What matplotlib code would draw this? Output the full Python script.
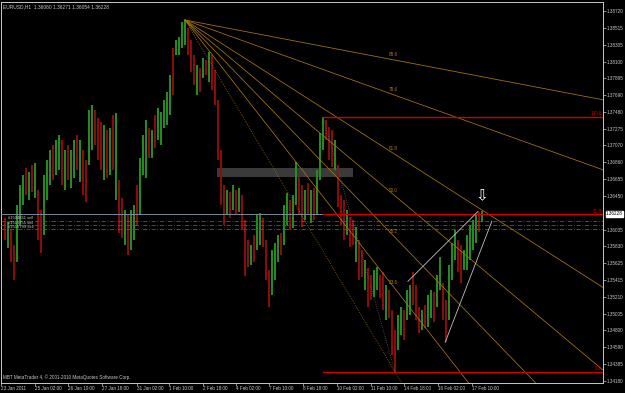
import matplotlib
matplotlib.use("Agg")
import matplotlib.pyplot as plt
from matplotlib.patches import Rectangle

plt.rcParams['font.family'] = ['Liberation Sans', 'DejaVu Sans']

# EURUSD H1, compressed to one bar per ~3 hours (high / low)
highs = [
    1.3618, 1.3613, 1.3603, 1.3585, 1.3634, 1.3658, 1.3671, 1.3679, 1.3674, 1.3683,
    1.3685, 1.3652, 1.3628, 1.3671, 1.3689, 1.3701, 1.3708, 1.3714, 1.3720, 1.3714,
    1.3701, 1.3708, 1.3701, 1.3714, 1.3720, 1.3714, 1.3701, 1.3689, 1.3750, 1.3757,
    1.3750, 1.3741, 1.3736, 1.3732, 1.3726, 1.3728, 1.3744, 1.3747, 1.3665, 1.3643,
    1.3628, 1.3622, 1.3628, 1.3634, 1.3658, 1.3692, 1.3720, 1.3738, 1.3728, 1.3726,
    1.3744, 1.3753, 1.3748, 1.3763, 1.3773, 1.3793, 1.3827, 1.3836, 1.3840, 1.3859,
    1.3861, 1.3851, 1.3836, 1.3818, 1.3806, 1.3802, 1.3814, 1.3812, 1.3822, 1.3818,
    1.3800, 1.3763, 1.3701, 1.3658, 1.3652, 1.3650, 1.3658, 1.3652, 1.3655, 1.3646,
    1.3615, 1.3591, 1.3585, 1.3597, 1.3622, 1.3624, 1.3618, 1.3591, 1.3554, 1.3579,
    1.3587, 1.3597, 1.3600, 1.3634, 1.3649, 1.3640, 1.3646, 1.3687, 1.3668, 1.3658,
    1.3652, 1.3661, 1.3652, 1.3655, 1.3677, 1.3722, 1.3742, 1.3738, 1.3730, 1.3726,
    1.3714, 1.3683, 1.3646, 1.3640, 1.3628, 1.3619, 1.3615, 1.3607, 1.3591, 1.3579,
    1.3566, 1.3557, 1.3548, 1.3554, 1.3558, 1.3548, 1.3551, 1.3536, 1.3529, 1.3505,
    1.3480, 1.3499, 1.3509, 1.3505, 1.3529, 1.3536, 1.3551, 1.3536, 1.3509, 1.3505,
    1.3511, 1.3523, 1.3529, 1.3527, 1.3548, 1.3570, 1.3538, 1.3517, 1.3560, 1.3587,
    1.3603, 1.3591, 1.3585, 1.3579, 1.3597, 1.3609, 1.3615, 1.3622, 1.3625, 1.3627,
]
lows = [
    1.3591, 1.3581, 1.3564, 1.3542, 1.3564, 1.3609, 1.3634, 1.3646, 1.3640, 1.3650,
    1.3643, 1.3591, 1.3575, 1.3597, 1.3640, 1.3658, 1.3665, 1.3671, 1.3677, 1.3658,
    1.3652, 1.3665, 1.3655, 1.3667, 1.3677, 1.3662, 1.3646, 1.3638, 1.3683, 1.3701,
    1.3708, 1.3689, 1.3677, 1.3665, 1.3667, 1.3671, 1.3677, 1.3640, 1.3600, 1.3593,
    1.3585, 1.3572, 1.3579, 1.3591, 1.3609, 1.3622, 1.3671, 1.3667, 1.3692, 1.3692,
    1.3704, 1.3714, 1.3708, 1.3728, 1.3732, 1.3744, 1.3769, 1.3818, 1.3818, 1.3827,
    1.3830, 1.3818, 1.3797, 1.3781, 1.3769, 1.3773, 1.3790, 1.3793, 1.3785, 1.3775,
    1.3757, 1.3689, 1.3634, 1.3609, 1.3622, 1.3618, 1.3628, 1.3622, 1.3625, 1.3603,
    1.3546, 1.3558, 1.3560, 1.3564, 1.3579, 1.3585, 1.3582, 1.3542, 1.3509, 1.3523,
    1.3542, 1.3564, 1.3572, 1.3585, 1.3609, 1.3603, 1.3606, 1.3634, 1.3622, 1.3607,
    1.3615, 1.3622, 1.3612, 1.3615, 1.3622, 1.3665, 1.3701, 1.3714, 1.3689, 1.3680,
    1.3677, 1.3631, 1.3609, 1.3591, 1.3597, 1.3582, 1.3585, 1.3564, 1.3542, 1.3545,
    1.3529, 1.3509, 1.3517, 1.3521, 1.3529, 1.3520, 1.3505, 1.3493, 1.3495, 1.3450,
    1.3429, 1.3456, 1.3474, 1.3468, 1.3493, 1.3499, 1.3511, 1.3493, 1.3477, 1.3480,
    1.3483, 1.3484, 1.3495, 1.3490, 1.3509, 1.3529, 1.3493, 1.3465, 1.3493, 1.3542,
    1.3566, 1.3551, 1.3538, 1.3554, 1.3554, 1.3566, 1.3579, 1.3587, 1.3601, 1.3613,
]
# g = up bar, r = down bar
moves = "".join([
    "rgrr", "gggrgrg", "rr", "gggrgg", "rgrggrgrr", "ggr", "rrgrgrg", "rrgr",
    "ggrggg", "rgrgg", "gggrgggg", "rrrgrgrgrr", "rrr", "grgrgr", "rrgr", "ggr",
    "rrg", "ggrg", "grgg", "rrgrgrg", "ggr", "rrgrr", "rgrrgrrg", "rrggrrgrr",
    "rggr", "ggrrrgr", "ggrggrr", "gggrrgggggrg",
])

# Fibonacci fan: swing high -> swing low (bar, price)
fan_a = (60, 1.3861)
fan_b = (130, 1.3429)
fan_levels = [0.0, 0.236, 0.382, 0.5, 0.618, 0.786, 0.886]
fan_labels = ["", "23.6", "38.2", "50.0", "61.8", "78.6", "88.6"]

# Fibonacci retracement: lower high -> swing low
fibo_a = (106, 1.3742)
fibo_b = (130, 1.3429)
fibo_levels = [0.0, 0.618, 1.0]
fibo_labels = ["0.0", "61.8", "100.0"]

# rising wedge drawn on the chart
wedge_upper = ([134.3, 157.7], [1.3540, 1.3626])
wedge_lower = ([146.7, 162.3], [1.3465, 1.3614])

zone_x = (70.7, 116.0)
zone_y = (1.3668, 1.3679)

bid = 1.36228
orders = [1.3614, 1.3609, 1.3604]
order_labels = ["#1504861 sell", "#1515755 sell", "#1515799 sell"]

y_ticks = [1.38720, 1.38515, 1.38305, 1.38100, 1.37895, 1.37690, 1.37480, 1.37275,
           1.37070, 1.36860, 1.36655, 1.36450, 1.36035, 1.35830, 1.35625, 1.35415,
           1.35210, 1.35005, 1.34800, 1.34590, 1.34385, 1.34180]
x_ticks = [-1.3, 10, 21, 32.3, 44, 54.7, 66, 77, 88, 99.3, 110.7, 122, 133, 144.3, 155.7]
x_labels = ["23 Jan 2011", "25 Jan 02:00", "26 Jan 10:00", "27 Jan 18:00", "31 Jan 02:00",
            "1 Feb 10:00", "2 Feb 18:00", "4 Feb 02:00", "7 Feb 10:00", "8 Feb 18:00",
            "10 Feb 02:00", "11 Feb 10:00", "14 Feb 18:00", "16 Feb 02:00", "17 Feb 10:00"]

BG = "#000000"
FG = "#c8c8c8"
GOLD = "#a8780c"
RED = "#d00000"
FS = 3.3
YMIN, YMAX = 1.34152, 1.38831

fig = plt.figure(figsize=(6.25, 3.93), dpi=100, facecolor=BG)
ax = fig.add_axes([1 / 625, 10 / 393, 602 / 625, 381 / 393], facecolor=BG)

x0, x1 = -1.33, 199.33
ax.set_xlim(x0, x1)
ax.set_ylim(YMIN, YMAX)

ax.add_patch(Rectangle((zone_x[0], zone_y[0]), zone_x[1] - zone_x[0], zone_y[1] - zone_y[0],
                       facecolor="#3a3a3a", edgecolor="none", zorder=1))

xs = list(range(len(highs)))
cols = ["#23901f" if m == "g" else "#8e0c0c" for m in moves]
ax.vlines(xs, lows, highs, colors=cols, linewidth=1.4, zorder=2)

# bid line and order lines
ax.axhline(bid, color="#7a8a9a", lw=0.7, zorder=3)
for p, lab in zip(orders, order_labels):
    ax.axhline(p, color="#1f7a3a", lw=0.6, ls=(0, (5, 2, 1, 2)), zorder=3)
    ax.text(1.0, p + 0.00008, lab, color=FG, fontsize=FS - 0.3, va="bottom", ha="left", zorder=4)

# fib fan
ax_, ay = fan_a
bx, by = fan_b
for r, lab in zip(fan_levels, fan_labels):
    py = by + r * (ay - by)
    slope = (py - ay) / (bx - ax_)
    ax.plot([ax_, x1], [ay, ay + slope * (x1 - ax_)], color=GOLD, lw=0.55,
            ls=":" if r == 0 else "-", zorder=3)
    if lab:
        ax.text(bx - 0.5, py + 0.0004, lab, color=GOLD, fontsize=FS, ha="center", va="bottom")

# fib retracement
fx, fy = fibo_a
gx, gy = fibo_b
ax.plot([fx, gx], [fy, gy], color="#606060", lw=0.6, ls=":", zorder=3)
for r, lab in zip(fibo_levels, fibo_labels):
    py = gy + r * (fy - gy)
    ax.plot([fx, x1], [py, py], color=RED, lw=1.0, zorder=3)
    ax.text(x1 - 0.5, py + 0.00005, lab, color=RED, fontsize=FS, ha="right", va="bottom")

# wedge
ax.plot(*wedge_upper, color="#c0c0c0", lw=0.6, zorder=4)
ax.plot(*wedge_lower, color="#c0c0c0", lw=0.6, zorder=4)
ax.text(159, 1.3645, "\u21e9", color="white", fontsize=11, ha="center", va="center",
        family=["DejaVu Sans"], zorder=5)

# axes styling (MT4 look)
for s in ["left", "top", "right", "bottom"]:
    ax.spines[s].set_color(FG)
    ax.spines[s].set_linewidth(0.7)
ax.yaxis.tick_right()
ax.set_yticks(y_ticks)
ax.set_yticklabels([f"{v:.5f}" for v in y_ticks])
ax.set_xticks(x_ticks)
ax.set_xticklabels(x_labels, ha="left")
ax.tick_params(axis="y", colors=FG, labelsize=FS, length=2, width=0.5, pad=1)
ax.tick_params(axis="x", colors=FG, labelsize=FS, length=2, width=0.5, pad=0.5)

ax.text(1.005, (bid - YMIN) / (YMAX - YMIN), f"{bid:.5f}", transform=ax.transAxes,
        fontsize=FS, color="black", va="center", ha="left",
        bbox=dict(boxstyle="square,pad=0.1", facecolor="white", edgecolor="white"))

ax.text(0.004, 0.993, "EURUSD,H1  1.36060 1.36271 1.36054 1.36228", transform=ax.transAxes,
        color=FG, fontsize=FS + 0.2, va="top", ha="left")
ax.text(0.003, 0.008, "MBT MetaTrader 4, \u00a9 2001-2010 MetaQuotes Software Corp.",
        transform=ax.transAxes, color=FG, fontsize=FS, va="bottom", ha="left")

fig.savefig("out.png", dpi=100, facecolor=BG)
